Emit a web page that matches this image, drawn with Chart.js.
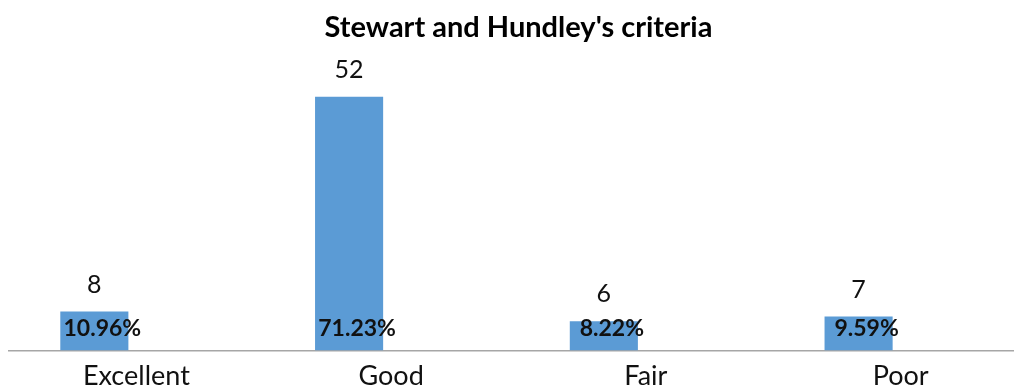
<!DOCTYPE html>
<html>
<head>
<meta charset="utf-8">
<script src="https://cdn.jsdelivr.net/npm/chart.js@4"></script>
<style>
  html, body { margin: 0; padding: 0; background: #fff; overflow: hidden; }
  #wrap { width: 1030px; height: 387px; overflow: hidden; }
</style>
</head>
<body>
<div id="wrap"><canvas id="chart" width="1030" height="401"></canvas></div>
<script>
// data
var categories = ['Excellent', 'Good', 'Fair', 'Poor'];
var counts = [8, 52, 6, 7];
var percents = ['10.96%', '71.23%', '8.22%', '9.59%'];

var barLabels = {
  id: 'barLabels',
  afterDatasetsDraw: function(chart) {
    var ctx = chart.ctx;
    var meta = chart.getDatasetMeta(0);
    ctx.save();
    ctx.textAlign = 'center';
    ctx.textBaseline = 'middle';
    meta.data.forEach(function(bar, i) {
      ctx.fillStyle = '#111';
      ctx.font = '25px Lato';
      ctx.fillText(String(counts[i]), bar.x, bar.y - 27);
      ctx.font = 'bold 23px Lato';
      ctx.fillText(percents[i], bar.x + 8, bar.base - 22);
    });
    ctx.restore();
  }
};

new Chart(document.getElementById('chart').getContext('2d'), {
  type: 'bar',
  data: {
    labels: categories,
    datasets: [{
      label: 'Patients',
      data: counts,
      backgroundColor: '#5B9BD5',
      borderWidth: 0
    }, {
      // empty series, keeps the bars to the left of each category like the original
      label: '',
      data: categories.map(function() { return null; }),
      backgroundColor: 'rgba(0,0,0,0)'
    }]
  },
  options: {
    responsive: false,
    animation: false,
    datasets: { bar: { categoryPercentage: 0.66, barPercentage: 0.81 } },
    layout: { padding: { left: 9, right: 2, top: 0, bottom: 0 } },
    plugins: {
      legend: { display: false },
      tooltip: { enabled: false },
      title: {
        display: true,
        text: "Stewart and Hundley's criteria",
        color: '#000',
        font: { family: 'Lato', size: 29, weight: 'bold', lineHeight: 1.2 },
        padding: { top: 10, bottom: 13 }
      }
    },
    scales: {
      x: {
        grid: { display: false, drawTicks: false },
        border: { display: true, color: '#a6a6a6', width: 1.5 },
        ticks: { color: '#111', font: { family: 'Lato', size: 27 }, padding: 9 }
      },
      y: {
        display: false,
        min: 0,
        max: 60
      }
    }
  },
  plugins: [barLabels]
});
</script>
</body>
</html>
